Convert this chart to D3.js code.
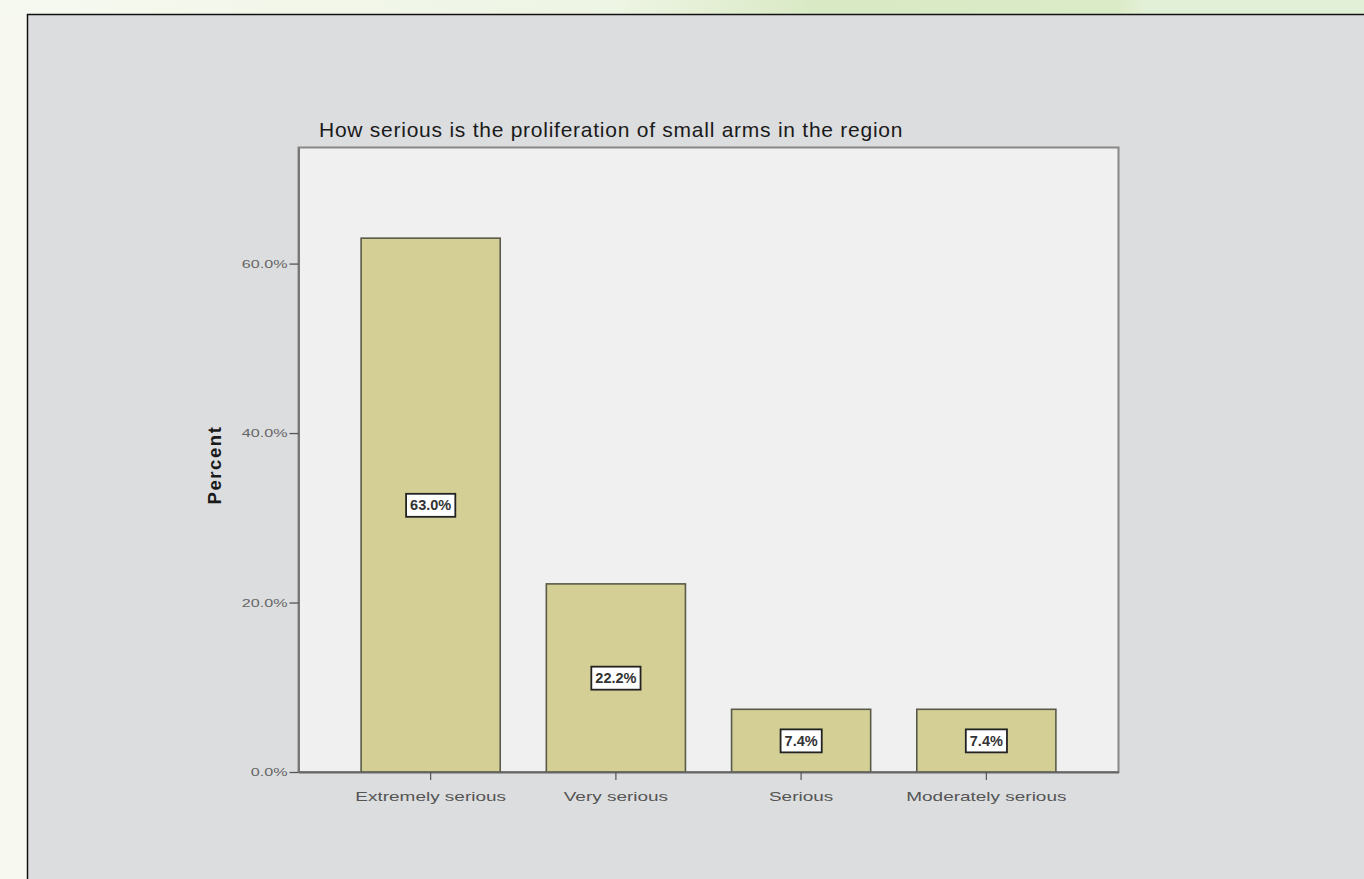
<!DOCTYPE html>
<html>
<head>
<meta charset="utf-8">
<script src="https://cdn.jsdelivr.net/npm/d3@7"></script>
<style>
  html, body { margin: 0; padding: 0; background: #f8faf4; overflow: hidden; }
  svg { display: block; }
</style>
</head>
<body>
<svg id="chart" width="1364" height="879"></svg>
<script>
const categories = ["Extremely serious", "Very serious", "Serious", "Moderately serious"];
const percents = [63.0, 22.2, 7.4, 7.4];
const valueLabels = ["63.0%", "22.2%", "7.4%", "7.4%"];
const yTicks = [0, 20, 40, 60];
const yTickLabels = ["0.0%", "20.0%", "40.0%", "60.0%"];
const title = "How serious is the proliferation of small arms in the region";
const yTitle = "Percent";

const svg = d3.select("#chart");
const FONT = "Liberation Sans, Arial, sans-serif";

// decorative page background
const defs = svg.append("defs");
const grad = defs.append("linearGradient").attr("id", "topband").attr("x1", "0").attr("x2", "1");
grad.append("stop").attr("offset", "0").attr("stop-color", "#f6f9f0");
grad.append("stop").attr("offset", "0.45").attr("stop-color", "#eef5e4");
grad.append("stop").attr("offset", "0.6").attr("stop-color", "#d9e9c4");
grad.append("stop").attr("offset", "0.82").attr("stop-color", "#dcebc7");
grad.append("stop").attr("offset", "0.84").attr("stop-color", "#e3f0d8");
grad.append("stop").attr("offset", "1").attr("stop-color", "#e3f0d8");
svg.append("rect").attr("x", 0).attr("y", 0).attr("width", 1364).attr("height", 14).attr("fill", "url(#topband)");
svg.append("rect").attr("x", 0).attr("y", 14).attr("width", 27).attr("height", 865).attr("fill", "#f7f9f1");

// gray panel
svg.append("rect").attr("x", 27).attr("y", 14).attr("width", 1345).attr("height", 870)
  .attr("fill", "#dcdddf");
svg.append("path").attr("d", "M27.5,879 V14.5 H1364").attr("fill", "none").attr("stroke", "#111").attr("stroke-width", 1.5);

const plot = { left: 298.5, right: 1118.5, top: 147.5, bottom: 772 };

const x = d3.scaleBand().domain(categories).range([plot.left, plot.right])
  .paddingInner(0.249).paddingOuter(0.338);
const y = d3.scaleLinear().domain([0, 73.7]).range([plot.bottom, plot.top]);

// plot area
svg.append("rect").attr("x", plot.left).attr("y", plot.top)
  .attr("width", plot.right - plot.left).attr("height", plot.bottom - plot.top)
  .attr("fill", "#f0f0f0").attr("stroke", "#888").attr("stroke-width", 2);

// bars
svg.append("g").selectAll("rect").data(percents).join("rect")
  .attr("x", (d, i) => x(categories[i]))
  .attr("y", d => y(d))
  .attr("width", x.bandwidth())
  .attr("height", d => y(0) - y(d))
  .attr("fill", "#d3cf95")
  .attr("stroke", "#5a5a4a")
  .attr("stroke-width", 1.6);

// value labels
const lbl = svg.append("g").selectAll("g").data(percents).join("g")
  .attr("transform", (d, i) => `translate(${x(categories[i]) + x.bandwidth() / 2},${(y(d) + y(0)) / 2})`);
lbl.append("text").text((d, i) => valueLabels[i])
  .attr("text-anchor", "middle").attr("dy", "0.36em")
  .attr("font-family", FONT).attr("font-size", 14.5).attr("font-weight", "bold")
  .attr("fill", "#333")
  .each(function () {
    const b = this.getBBox();
    d3.select(this.parentNode).insert("rect", "text")
      .attr("x", b.x - 4).attr("y", b.y - 3.5).attr("width", b.width + 8).attr("height", b.height + 7)
      .attr("fill", "#fff").attr("stroke", "#222").attr("stroke-width", 1.8);
  });

// y axis
const yAxis = d3.axisLeft(y).tickValues(yTicks).tickFormat((d, i) => yTickLabels[i]).tickSize(9).tickSizeOuter(0).tickPadding(3);
const gy = svg.append("g").attr("transform", `translate(${plot.left},0)`).call(yAxis);
gy.select(".domain").attr("stroke", "#777").attr("stroke-width", 2);
gy.selectAll(".tick line").attr("stroke", "#555").attr("stroke-width", 1.3);
gy.selectAll(".tick text").attr("font-family", FONT).attr("font-size", 11.5)
  .attr("fill", "#666").attr("x", null)
  .attr("transform", "translate(-11,0) scale(1.4,1)");

// x axis
const xAxis = d3.axisBottom(x).tickSize(8).tickSizeOuter(0).tickPadding(12);
const gx = svg.append("g").attr("transform", `translate(0,${plot.bottom})`).call(xAxis);
gx.select(".domain").attr("stroke", "#666").attr("stroke-width", 2);
gx.selectAll(".tick line").attr("stroke", "#555").attr("stroke-width", 1.2);
gx.selectAll(".tick text").attr("font-family", FONT).attr("font-size", 12)
  .attr("fill", "#555").attr("transform", "scale(1.58,1)");

// titles
svg.append("text").text(title).attr("x", 319).attr("y", 137)
  .attr("font-family", FONT).attr("font-size", 21).attr("letter-spacing", 0.75).attr("fill", "#1a1a1a");

svg.append("text").text(yTitle)
  .attr("transform", `translate(221,465) rotate(-90)`)
  .attr("text-anchor", "middle")
  .attr("font-family", FONT).attr("font-size", 18.5).attr("font-weight", "bold")
  .attr("letter-spacing", 1.6).attr("fill", "#1a1a1a");
</script>
</body>
</html>
